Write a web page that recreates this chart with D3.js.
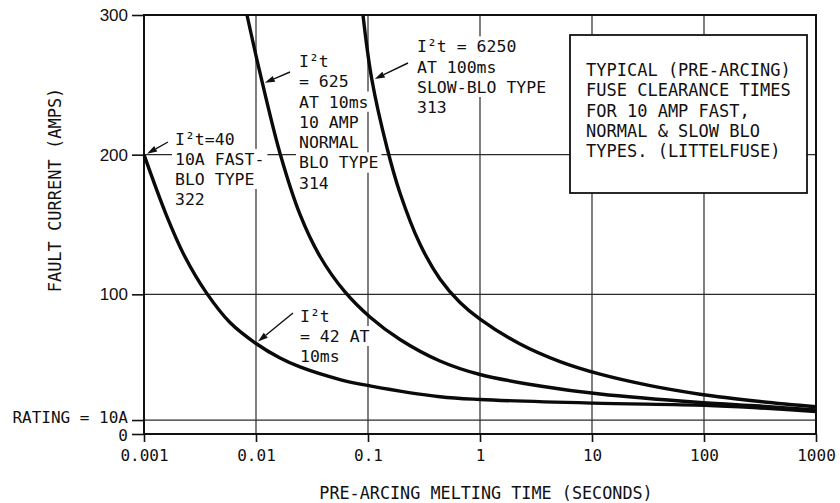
<!DOCTYPE html>
<html>
<head>
<meta charset="utf-8">
<script src="https://cdn.jsdelivr.net/npm/d3@7/dist/d3.min.js"></script>
<style>
  html, body { margin: 0; padding: 0; background: #fff; }
  svg { display: block; }
</style>
</head>
<body>
<svg id="chart" width="840" height="503"></svg>
<script>
// Pre-arcing melting time (s) vs fault current (A) for 10 A fuses
const fastBlo322 = [
  [0.001, 200], [0.00157, 157.5], [0.00232, 126.9], [0.00365, 100.5], [0.00586, 79.8],
  [0.01, 64.8], [0.0164, 54.4], [0.0247, 48], [0.0562, 39], [0.104, 34.5], [0.439, 26.7],
  [1, 24.7], [10.2, 22.1], [102, 20.5], [316, 18.6], [1000, 16.1]
];
const normalBlo314 = [
  [0.00831, 300], [0.0109, 258], [0.0164, 200.8], [0.0247, 157.2], [0.0373, 127.1],
  [0.0623, 101.7], [0.104, 83.8], [0.193, 67.7], [0.439, 52.3], [1, 42.6],
  [3.43, 34.4], [11.8, 28.6], [92, 22.6], [316, 20], [1000, 17.2]
];
const slowBlo313 = [
  [0.0902, 300], [0.108, 254.2], [0.148, 204.8], [0.193, 172.6], [0.291, 136],
  [0.439, 111], [0.663, 94.2], [1, 82.3], [2.28, 64.4], [5.18, 51.8],
  [11.8, 42.8], [33, 34.6], [92, 28.5], [316, 23.3], [1000, 19.5]
];

const xTickValues = [0.001, 0.01, 0.1, 1, 10, 100, 1000];
const xTickLabels = ["0.001", "0.01", "0.1", "1", "10", "100", "1000"];
const yTickValues = [0, 10, 100, 200, 300];
const yTickLabels = ["0", "RATING = 10A", "100", "200", "300"];
const ratingAmps = 10;

const xTitle = "PRE-ARCING MELTING TIME (SECONDS)";
const yTitle = "FAULT CURRENT (AMPS)";

const fastNote = ["I²t=40", "10A FAST-", "BLO TYPE", "322"];
const normalNote = ["I²t", "= 625", "AT 10ms", "10 AMP", "NORMAL", "BLO TYPE", "314"];
const slowNote = ["I²t = 6250", "AT 100ms", "SLOW-BLO TYPE", "313"];
const fast42Note = ["I²t", "= 42 AT", "10ms"];
const boxNote = ["TYPICAL (PRE-ARCING)", "FUSE CLEARANCE TIMES", "FOR 10 AMP FAST,", "NORMAL & SLOW BLO", "TYPES. (LITTELFUSE)"];

// arrow targets on the curves: [time, amps]
const fastPoint = [0.001, 200];
const normalPoint = [0.0115, 250];
const slowPoint = [0.108, 254.2];
const fast42Point = [0.01, 64.8];

const MONO = "'DejaVu Sans Mono', monospace";
const SANS = "'Liberation Sans', Arial, sans-serif";

const svg = d3.select("#chart");
const plotL = 144, plotR = 816, plotT = 15, plotB = 434;

const x = d3.scaleLog().domain([0.001, 1000]).range([plotL, plotR]);
const y = d3.scaleLinear().domain([0, 300]).range([plotB, plotT]);

svg.append("rect").attr("width", 840).attr("height", 503).attr("fill", "#fff");

// grid
const grid = svg.append("g").attr("stroke", "#2a2a2a").attr("stroke-width", 1.2);
grid.selectAll("line.v").data(xTickValues.slice(1, -1)).join("line")
  .attr("class", "v")
  .attr("x1", d => x(d)).attr("x2", d => x(d))
  .attr("y1", plotT).attr("y2", plotB);
grid.selectAll("line.h").data([ratingAmps, 100, 200]).join("line")
  .attr("class", "h")
  .attr("x1", plotL).attr("x2", plotR)
  .attr("y1", d => y(d)).attr("y2", d => y(d));

// axes
const xAxis = d3.axisBottom(x)
  .tickValues(xTickValues)
  .tickFormat((d, i) => xTickLabels[i])
  .tickSize(8).tickPadding(8);
const gx = svg.append("g").attr("transform", `translate(0,${plotB})`).call(xAxis);
gx.select(".domain").remove();
gx.selectAll(".tick line").attr("stroke", "#111").attr("stroke-width", 1.6);
gx.selectAll(".tick text").attr("font-family", MONO).attr("font-size", 16).attr("fill", "#111");

const yAxis = d3.axisLeft(y)
  .tickValues(yTickValues)
  .tickFormat((d, i) => yTickLabels[i])
  .tickSize(12).tickPadding(4);
const gy = svg.append("g").attr("transform", `translate(${plotL},0)`).call(yAxis);
gy.select(".domain").remove();
gy.selectAll(".tick line").attr("stroke", "#111").attr("stroke-width", 1.6);
gy.selectAll(".tick text")
  .attr("font-family", d => (d >= 100 ? SANS : MONO))
  .attr("font-size", d => (d >= 100 ? 17 : 16))
  .attr("fill", "#111")
  .attr("y", d => (d === ratingAmps ? -3 : d === 0 ? 1 : 0));

// frame
svg.append("rect")
  .attr("x", plotL).attr("y", plotT)
  .attr("width", plotR - plotL).attr("height", plotB - plotT)
  .attr("fill", "none").attr("stroke", "#111").attr("stroke-width", 2);

// annotation blocks with white backing that breaks the grid
function noteBlock(lines, x0, yc0, step, size) {
  const g = svg.append("g");
  const cw = size * 0.602;
  lines.forEach((t, i) => {
    const yc = yc0 + i * step;
    g.append("rect")
      .attr("x", x0 - 3).attr("y", yc - step / 2)
      .attr("width", t.length * cw + 6).attr("height", step)
      .attr("fill", "#fff");
  });
  lines.forEach((t, i) => {
    const yc = yc0 + i * step;
    g.append("text")
      .attr("x", x0).attr("y", yc).attr("dy", "0.36em")
      .attr("font-family", MONO).attr("font-size", size)
      .attr("fill", "#111").text(t);
  });
}

// note box
svg.append("rect")
  .attr("x", 570).attr("y", 35).attr("width", 237).attr("height", 158)
  .attr("fill", "#fff").attr("stroke", "#111").attr("stroke-width", 1.8);
noteBlock(boxNote, 586, 70, 20.2, 17);

noteBlock(fastNote, 175, 139, 20, 16.5);
noteBlock(normalNote, 299, 61, 20.3, 16.5);
noteBlock(slowNote, 417, 46.5, 20.2, 16.5);
noteBlock(fast42Note, 300, 316, 20, 16.5);

// curves
const line = d3.line()
  .x(d => x(d[0])).y(d => y(d[1]))
  .curve(d3.curveCatmullRom.alpha(0.5));
svg.append("g").selectAll("path")
  .data([fastBlo322, normalBlo314, slowBlo313]).join("path")
  .attr("d", line)
  .attr("fill", "none").attr("stroke", "#0a0a0a")
  .attr("stroke-width", 3.4).attr("stroke-linejoin", "round");

// leader arrows
function arrow(x1, y1, pt, ox, oy) {
  const x2 = x(pt[0]) + ox, y2 = y(pt[1]) + oy;
  const a = Math.atan2(y2 - y1, x2 - x1);
  const L = 10, W = 3.2;
  const bx = x2 - L * Math.cos(a), by = y2 - L * Math.sin(a);
  svg.append("line")
    .attr("x1", x1).attr("y1", y1).attr("x2", bx).attr("y2", by)
    .attr("stroke", "#111").attr("stroke-width", 1.4);
  const p = [
    [x2, y2],
    [bx + W * Math.sin(a), by - W * Math.cos(a)],
    [bx - W * Math.sin(a), by + W * Math.cos(a)]
  ];
  svg.append("path").attr("d", "M" + p.join("L") + "Z").attr("fill", "#111");
}
arrow(168, 142, fastPoint, 3, -1);
arrow(290, 72, normalPoint, 2, -2);
arrow(408, 63, slowPoint, 3, 0);
arrow(293, 313, fast42Point, 2, -2);

// axis titles
svg.append("text")
  .attr("x", (plotL + plotR) / 2 + 6).attr("y", 493).attr("dy", "0.36em")
  .attr("text-anchor", "middle")
  .attr("font-family", MONO).attr("font-size", 16.8).attr("fill", "#111")
  .text(xTitle);
svg.append("text")
  .attr("transform", "translate(55,190) rotate(-90)")
  .attr("dy", "0.36em").attr("text-anchor", "middle")
  .attr("font-family", MONO).attr("font-size", 17).attr("fill", "#111")
  .text(yTitle);
</script>
</body>
</html>
